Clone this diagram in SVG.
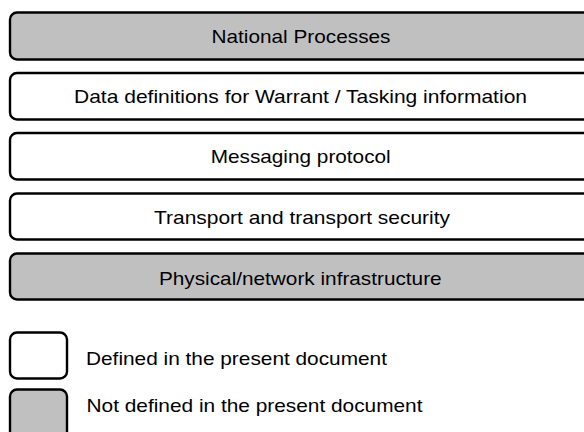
<svg xmlns="http://www.w3.org/2000/svg" width="584" height="432" viewBox="0 0 584 432">
<style>
.box{stroke:#000;stroke-width:2.4;}
.w{fill:#fff;}
.g{fill:#c0c0c0;}
text{font-family:"Liberation Sans",Arial,sans-serif;font-size:18.5px;fill:#000;}
.c{text-anchor:middle;}
</style>
<rect x="0" y="0" width="584" height="432" fill="#fff"/>
<g id="national-processes">
<rect class="box g" x="10" y="12.5" width="600" height="47" rx="7"/>
<text class="c" x="301" y="43" textLength="179" lengthAdjust="spacingAndGlyphs">National Processes</text>
</g>
<g id="data-definitions">
<rect class="box w" x="10" y="73" width="600" height="46.5" rx="7"/>
<text class="c" x="300.5" y="102.5" textLength="453" lengthAdjust="spacingAndGlyphs">Data definitions for Warrant / Tasking information</text>
</g>
<g id="messaging-protocol">
<rect class="box w" x="10" y="133" width="600" height="46.5" rx="7"/>
<text class="c" x="300.7" y="163.3" textLength="180" lengthAdjust="spacingAndGlyphs">Messaging protocol</text>
</g>
<g id="transport">
<rect class="box w" x="10" y="193.5" width="600" height="46" rx="7"/>
<text class="c" x="302" y="224" textLength="296" lengthAdjust="spacingAndGlyphs">Transport and transport security</text>
</g>
<g id="physical">
<rect class="box g" x="10" y="253.5" width="600" height="46" rx="7"/>
<text class="c" x="300.3" y="284.5" textLength="282.7" lengthAdjust="spacingAndGlyphs">Physical/network infrastructure</text>
</g>
<g id="legend-defined">
<rect class="box w" x="10" y="332.5" width="57" height="46" rx="7"/>
<text x="86" y="365" textLength="301" lengthAdjust="spacingAndGlyphs">Defined in the present document</text>
</g>
<g id="legend-not-defined">
<rect class="box g" x="10" y="389.5" width="57" height="60" rx="7"/>
<text x="86.5" y="412" textLength="336" lengthAdjust="spacingAndGlyphs">Not defined in the present document</text>
</g>
<g id="connectors"></g>
</svg>
